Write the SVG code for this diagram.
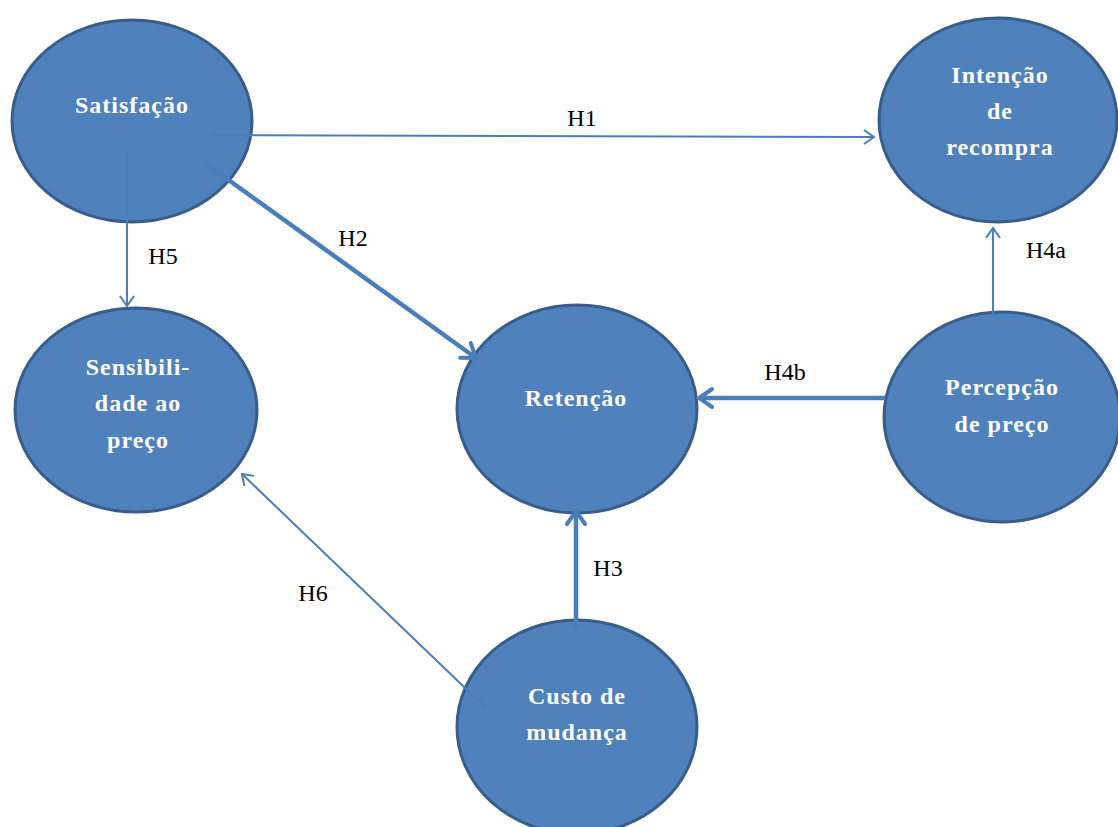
<svg xmlns="http://www.w3.org/2000/svg" width="1118" height="827" viewBox="0 0 1118 827" font-family="Liberation Serif, Times New Roman, DejaVu Serif, Noto Serif, serif">
<style>
.node{fill:#4F81BD;stroke:#385D8A;stroke-width:3}
text{font-family:"Liberation Serif","Times New Roman","DejaVu Serif","Noto Serif",serif}
.nt{font-weight:bold;font-size:24px;fill:#fff;text-anchor:middle;letter-spacing:1px}
.lbl{font-size:24px;fill:#000;text-anchor:middle}
.thin{stroke:#4A7EBB;stroke-width:2;fill:none}
.thick{stroke:#4A7EBB;stroke-width:4.5;fill:none}
</style>
<defs>
<marker id="a1" markerUnits="userSpaceOnUse" viewBox="-14 -10 16 20" refX="0" refY="0" markerWidth="16" markerHeight="20" orient="auto">
<path d="M-10,-7 L0,0 L-10,7" fill="none" stroke="#4A7EBB" stroke-width="2"/>
</marker>
<marker id="a2" markerUnits="userSpaceOnUse" viewBox="-18 -13 21 26" refX="0" refY="0" markerWidth="21" markerHeight="26" orient="auto">
<path d="M-13,-9 L0,0 L-13,9" fill="none" stroke="#4A7EBB" stroke-width="4" stroke-linecap="round"/>
</marker>
</defs>
<rect width="1118" height="827" fill="#fff"/>
<g id="n-satisfacao"><ellipse class="node" cx="132" cy="121" rx="120" ry="101"/><text class="nt" x="132" y="113">Satisfação</text></g>
<g id="n-intencao"><ellipse class="node" cx="998" cy="120" rx="119" ry="102"/><text class="nt" x="1000" y="83">Intenção</text><text class="nt" x="1000" y="119">de</text><text class="nt" x="1000" y="155">recompra</text></g>
<g id="n-sensibilidade"><ellipse class="node" cx="136" cy="410" rx="121" ry="102"/><text class="nt" x="138" y="375">Sensibili-</text><text class="nt" x="138" y="411">dade ao</text><text class="nt" x="138" y="448">preço</text></g>
<g id="n-retencao"><ellipse class="node" cx="577" cy="409" rx="120" ry="104"/><text class="nt" x="576" y="406">Retenção</text></g>
<g id="n-percepcao"><ellipse class="node" cx="1002" cy="417" rx="118" ry="105"/><text class="nt" x="1002" y="395">Percepção</text><text class="nt" x="1002" y="432">de preço</text></g>
<g id="n-custo"><ellipse class="node" cx="577" cy="727" rx="120" ry="107"/><text class="nt" x="577" y="704">Custo de</text><text class="nt" x="577" y="740">mudança</text></g>
<g id="connectors">
<line class="thin" x1="210" y1="135" x2="874" y2="137" marker-end="url(#a1)"/>
<line class="thick" x1="205" y1="163" x2="476" y2="358" marker-end="url(#a2)"/>
<line class="thin" x1="127" y1="152" x2="127" y2="306" marker-end="url(#a1)"/>
<line class="thick" x1="576" y1="630" x2="576" y2="511" marker-end="url(#a2)"/>
<line class="thin" x1="993" y1="316" x2="993" y2="228" marker-end="url(#a1)"/>
<line class="thick" x1="885" y1="398" x2="699" y2="398" marker-end="url(#a2)"/>
<line class="thin" x1="486" y1="708" x2="242" y2="474" marker-end="url(#a1)"/>
</g>
<g id="labels">
<text class="lbl" x="582" y="126">H1</text>
<text class="lbl" x="353" y="246">H2</text>
<text class="lbl" x="163" y="264">H5</text>
<text class="lbl" x="608" y="576">H3</text>
<text class="lbl" x="1046" y="258">H4a</text>
<text class="lbl" x="785" y="380">H4b</text>
<text class="lbl" x="313" y="601">H6</text>
</g>
</svg>
